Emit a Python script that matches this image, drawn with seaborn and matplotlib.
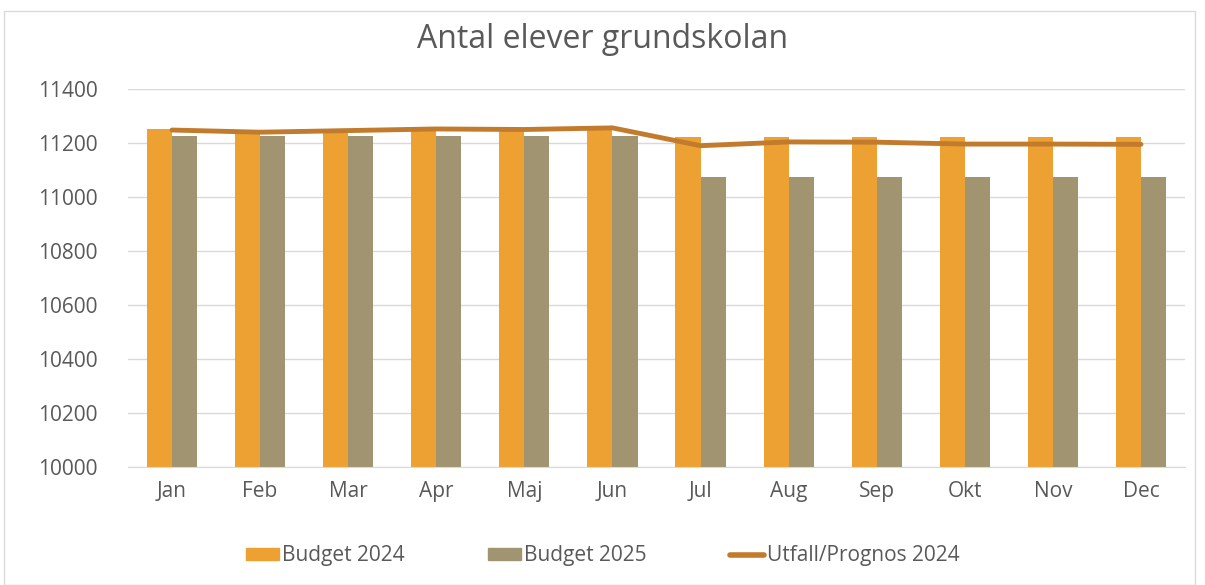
import matplotlib
matplotlib.use('Agg')
import matplotlib.pyplot as plt
import seaborn as sns
import pandas as pd
from matplotlib.patches import Rectangle
from matplotlib.lines import Line2D

# data
months = ['Jan', 'Feb', 'Mar', 'Apr', 'Maj', 'Jun', 'Jul', 'Aug', 'Sep', 'Okt', 'Nov', 'Dec']
budget_2024 = [11252, 11240, 11245, 11250, 11248, 11252, 11224, 11224, 11224, 11224, 11224, 11224]
budget_2025 = [11227, 11227, 11227, 11227, 11227, 11227, 11073, 11073, 11073, 11073, 11073, 11073]
utfall_2024 = [11248, 11240, 11246, 11252, 11250, 11256, 11190, 11204, 11203, 11196, 11196, 11195]

c24 = '#EDA132'
c25 = '#A09471'
cline = '#C27A2C'
txt = '#595959'

sns.set_style('white')
plt.rcParams['font.family'] = ['Open Sans', 'DejaVu Sans']

df = pd.DataFrame({
    'month': months * 2,
    'value': budget_2024 + budget_2025,
    'series': ['Budget 2024'] * 12 + ['Budget 2025'] * 12,
})

fig = plt.figure(figsize=(12.05, 5.85), dpi=100)
ax = fig.add_axes([128 / 1205, 1 - 467 / 585, (1185 - 128) / 1205, (467 - 89) / 585])

sns.barplot(data=df, x='month', y='value', hue='series', palette=[c24, c25],
            width=0.57, gap=0, saturation=1, linewidth=0, ax=ax, legend=False)
sns.lineplot(x=months, y=utfall_2024, color=cline, linewidth=3.5, sort=False, ax=ax)

ax.set_ylim(10000, 11400)
ax.set_yticks(range(10000, 11401, 200))
ax.set_xlim(-0.5, 11.5)
ax.yaxis.grid(True, color='#D9D9D9', linewidth=1)
ax.set_axisbelow(True)
for s in ['top', 'right', 'left']:
    ax.spines[s].set_visible(False)
ax.spines['bottom'].set_color('#D9D9D9')
ax.tick_params(axis='both', length=0, labelsize=15, labelcolor=txt)
ax.tick_params(axis='y', pad=22)
ax.tick_params(axis='x', pad=10)
ax.set_xlabel('')
ax.set_ylabel('')

fig.text(0.5, 1 - 40 / 585, 'Antal elever grundskolan', ha='center', va='center',
         fontsize=23, color=txt)

handles = [
    Rectangle((0, 0), 1, 1, color=c24),
    Rectangle((0, 0), 1, 1, color=c25),
    Line2D([0], [0], color=cline, linewidth=4),
]
fig.legend(handles, ['Budget 2024', 'Budget 2025', 'Utfall/Prognos 2024'],
           loc='center', bbox_to_anchor=(0.5, 1 - 556 / 585), ncol=3, frameon=False,
           fontsize=15, labelcolor=txt, handlelength=1.6, handleheight=0.5,
           columnspacing=4, handletextpad=0.15)

fig.patches.append(Rectangle((4 / 1205, 0), 1 - 14 / 1205, 1 - 11 / 585, transform=fig.transFigure,
                             fill=False, edgecolor='#D9D9D9', linewidth=1))

fig.savefig('out.png', dpi=100)
